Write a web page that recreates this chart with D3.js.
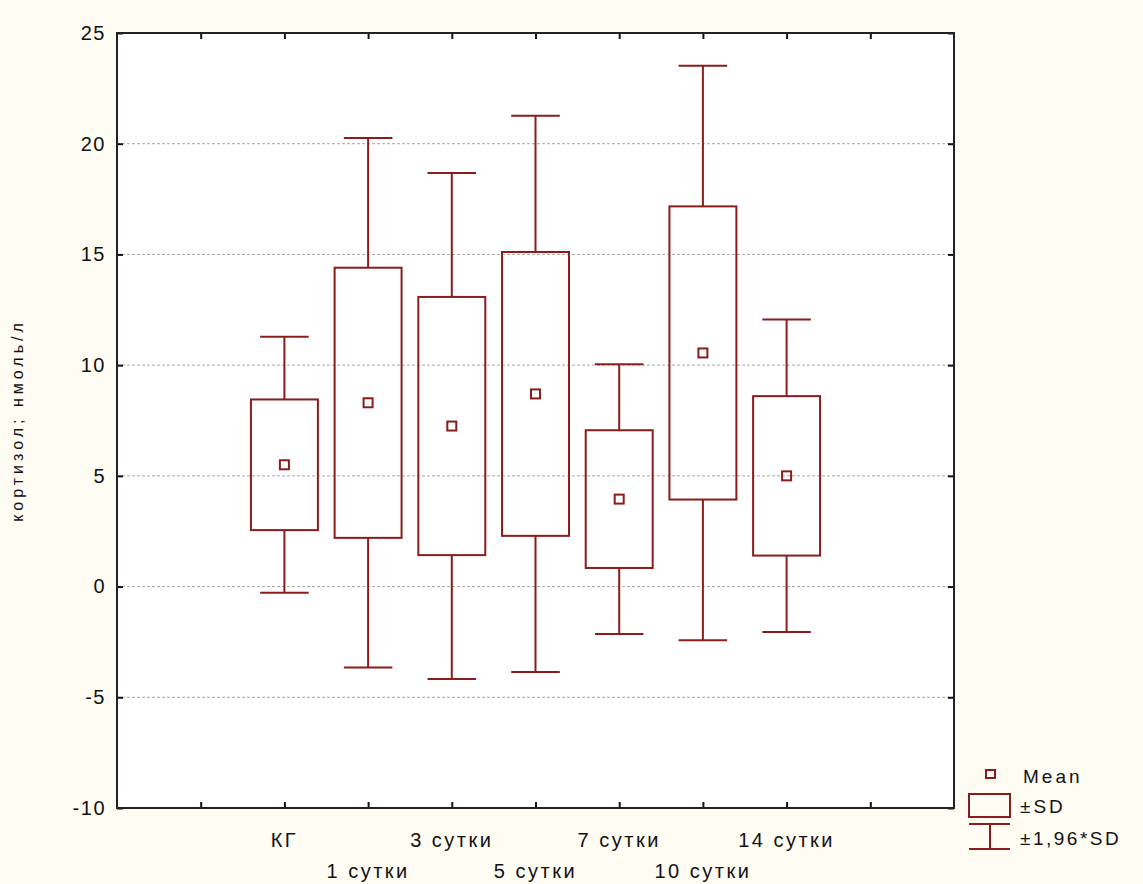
<!DOCTYPE html>
<html>
<head>
<meta charset="utf-8">
<script src="https://cdn.jsdelivr.net/npm/d3@7"></script>
<style>
  html, body { margin: 0; padding: 0; background: #fffcf4; }
  svg { display: block; }
  text { font-family: "Liberation Sans", Arial, sans-serif; fill: #111; }
</style>
</head>
<body>
<svg id="chart" width="1143" height="884"></svg>
<script>
// groups along the x axis
const groups = ["КГ", "1 сутки", "3 сутки", "5 сутки", "7 сутки", "10 сутки", "14 сутки"];
// mean and standard deviation
const means = [5.5, 8.3, 7.25, 8.7, 3.95, 10.55, 5.0];
const sds = [2.95, 6.1, 5.83, 6.41, 3.11, 6.62, 3.6];
const yTicks = [-10, -5, 0, 5, 10, 15, 20, 25];

const color = "#8b1c1c";
const svg = d3.select("#chart");
const margin = { left: 117, top: 33, right: 954, bottom: 808 };

// 10 slots, groups sit on slots 2..8
const x = d3.scaleLinear().domain([0, 10]).range([margin.left, margin.right]);
const y = d3.scaleLinear().domain([-10, 25]).range([margin.bottom, margin.top]);
const slot = x(1) - x(0);

// plot background
svg.append("rect")
    .attr("x", margin.left).attr("y", margin.top)
    .attr("width", margin.right - margin.left)
    .attr("height", margin.bottom - margin.top)
    .attr("fill", "#fff");

// gridlines
svg.append("g").selectAll("line")
    .data(yTicks.filter(d => d > -10 && d < 25))
    .join("line")
    .attr("x1", margin.left).attr("x2", margin.right)
    .attr("y1", d => y(d)).attr("y2", d => y(d))
    .attr("stroke", "#a8a8a8")
    .attr("stroke-width", 1)
    .attr("stroke-dasharray", "3,2");

// axes with inward ticks
const tickLen = 6;
svg.append("g")
    .attr("transform", `translate(${margin.left},0)`)
    .call(d3.axisLeft(y).tickValues(yTicks).tickSize(-tickLen).tickPadding(11).tickFormat(d => String(d)))
    .call(g => g.select(".domain").remove())
    .call(g => g.selectAll("text")
        .attr("font-size", 20)
        .attr("letter-spacing", "1.5px")
        .attr("font-family", "'Liberation Sans', Arial, sans-serif")
        .attr("fill", "#111"));
svg.append("g")
    .attr("transform", `translate(${margin.right},0)`)
    .call(d3.axisRight(y).tickValues(yTicks).tickSize(-tickLen).tickFormat(""))
    .call(g => g.select(".domain").remove());

const xTickVals = d3.range(1, 10);
svg.append("g")
    .attr("transform", `translate(0,${margin.bottom})`)
    .call(d3.axisBottom(x).tickValues(xTickVals).tickSize(-tickLen).tickFormat(""))
    .call(g => g.select(".domain").remove());
svg.append("g")
    .attr("transform", `translate(0,${margin.top})`)
    .call(d3.axisTop(x).tickValues(xTickVals).tickSize(-tickLen).tickFormat(""))
    .call(g => g.select(".domain").remove());

svg.selectAll(".tick line").attr("stroke", "#111").attr("stroke-width", 2);

// frame
svg.append("rect")
    .attr("x", margin.left).attr("y", margin.top)
    .attr("width", margin.right - margin.left)
    .attr("height", margin.bottom - margin.top)
    .attr("fill", "none")
    .attr("stroke", "#222")
    .attr("stroke-width", 2);

// x labels, staggered on two rows
svg.append("g").selectAll("text")
    .data(groups)
    .join("text")
    .attr("x", (d, i) => x(i + 2))
    .attr("y", (d, i) => i % 2 === 0 ? 847 : 878)
    .attr("text-anchor", "middle")
    .attr("font-size", 20)
    .attr("letter-spacing", "2.5px")
    .text(d => d);

// y label
svg.append("text")
    .attr("transform", `translate(23,${(margin.top + margin.bottom) / 2}) rotate(-90)`)
    .attr("text-anchor", "middle")
    .attr("font-size", 16)
    .attr("letter-spacing", "4px")
    .text("кортизол; нмоль/л");

// boxes
const boxW = slot * 0.8;
const capW = slot * 0.58;
const markS = 9;
const data = groups.map((g, i) => ({ g, i, m: means[i], sd: sds[i] }));

const boxes = svg.append("g").selectAll("g")
    .data(data)
    .join("g")
    .attr("fill", "none")
    .attr("stroke", color)
    .attr("stroke-width", 2);

// whisker stems
boxes.append("line")
    .attr("x1", d => x(d.i + 2)).attr("x2", d => x(d.i + 2))
    .attr("y1", d => y(d.m + 1.96 * d.sd)).attr("y2", d => y(d.m + d.sd));
boxes.append("line")
    .attr("x1", d => x(d.i + 2)).attr("x2", d => x(d.i + 2))
    .attr("y1", d => y(d.m - d.sd)).attr("y2", d => y(d.m - 1.96 * d.sd));
// caps
boxes.append("line")
    .attr("x1", d => x(d.i + 2) - capW / 2).attr("x2", d => x(d.i + 2) + capW / 2)
    .attr("y1", d => y(d.m + 1.96 * d.sd)).attr("y2", d => y(d.m + 1.96 * d.sd));
boxes.append("line")
    .attr("x1", d => x(d.i + 2) - capW / 2).attr("x2", d => x(d.i + 2) + capW / 2)
    .attr("y1", d => y(d.m - 1.96 * d.sd)).attr("y2", d => y(d.m - 1.96 * d.sd));
// ±SD box
boxes.append("rect")
    .attr("x", d => x(d.i + 2) - boxW / 2)
    .attr("y", d => y(d.m + d.sd))
    .attr("width", boxW)
    .attr("height", d => y(d.m - d.sd) - y(d.m + d.sd));
// mean marker
boxes.append("rect")
    .attr("x", d => x(d.i + 2) - markS / 2)
    .attr("y", d => y(d.m) - markS / 2)
    .attr("width", markS).attr("height", markS);

// legend
const lg = svg.append("g");
lg.append("rect")
    .attr("x", 986).attr("y", 770).attr("width", 9).attr("height", 8)
    .attr("fill", "none").attr("stroke", color).attr("stroke-width", 2);
lg.append("text").attr("x", 1023).attr("y", 783).attr("font-size", 19)
    .attr("letter-spacing", "3px").text("Mean");
lg.append("rect")
    .attr("x", 969).attr("y", 794).attr("width", 41).attr("height", 23)
    .attr("fill", "none").attr("stroke", color).attr("stroke-width", 2);
lg.append("text").attr("x", 1020).attr("y", 813).attr("font-size", 19)
    .attr("letter-spacing", "3px").text("±SD");
const lw = lg.append("g").attr("stroke", color).attr("stroke-width", 2);
lw.append("line").attr("x1", 969).attr("x2", 1010).attr("y1", 824).attr("y2", 824);
lw.append("line").attr("x1", 969).attr("x2", 1010).attr("y1", 849).attr("y2", 849);
lw.append("line").attr("x1", 990).attr("x2", 990).attr("y1", 824).attr("y2", 849);
lg.append("text").attr("x", 1020).attr("y", 845).attr("font-size", 19)
    .attr("letter-spacing", "2.5px").text("±1,96*SD");
</script>
</body>
</html>
